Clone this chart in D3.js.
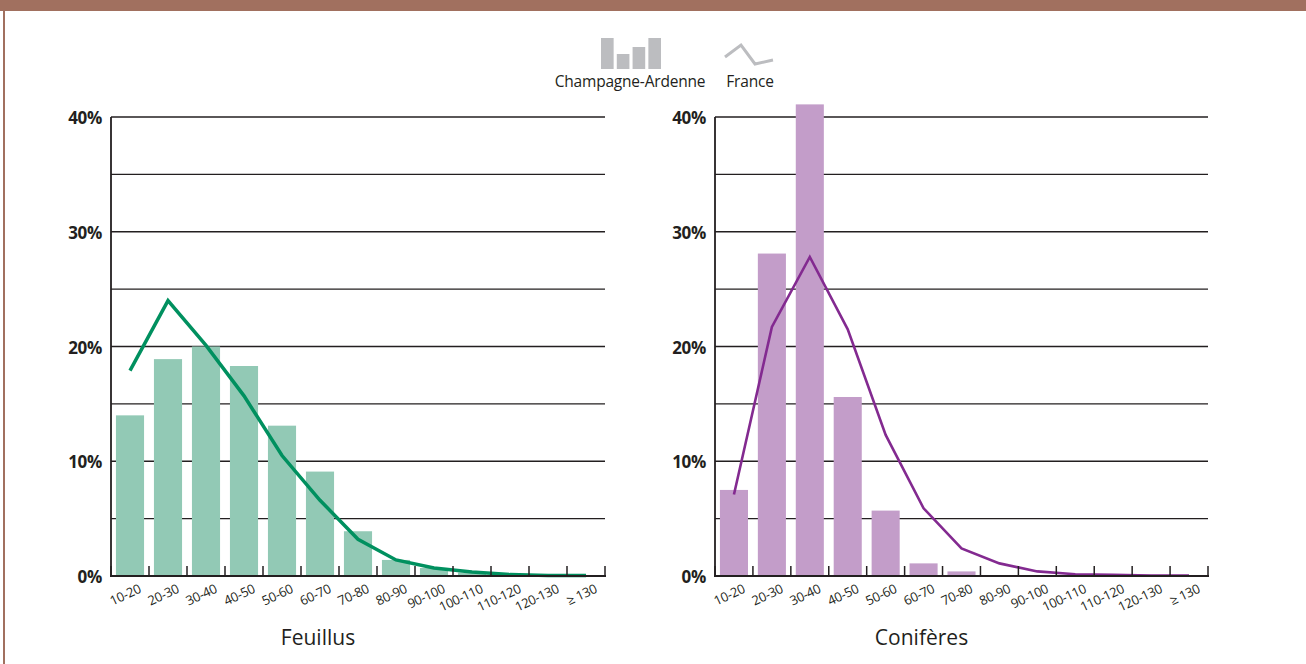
<!DOCTYPE html>
<html>
<head>
<meta charset="utf-8">
<script src="https://cdn.jsdelivr.net/npm/d3@7"></script>
<style>
  body { margin: 0; background: #fff; }
  svg { display: block; font-family: "Open Sans", sans-serif; }
</style>
</head>
<body>
<div class="chart"></div>
<script>
var width = 1306,
    height = 664;

// categories (diameter classes, cm)
var classes = ["10-20", "20-30", "30-40", "40-50", "50-60", "60-70", "70-80",
               "80-90", "90-100", "100-110", "110-120", "120-130", "\u2265 130"];
var yTicks = [0, 10, 20, 30, 40];

// Feuillus: region bars, France line (%)
var feuillusRegion = [14.0, 18.9, 20.0, 18.3, 13.1, 9.1, 3.9, 1.4, 0.7, 0.3, 0.1, 0.05, 0.05];
var feuillusFrance = [17.9, 24.0, 20.1, 15.7, 10.5, 6.6, 3.2, 1.4, 0.7, 0.35, 0.12, 0.05, 0.05];

// Conifères: region bars, France line (%)
var coniferesRegion = [7.5, 28.1, 41.1, 15.6, 5.7, 1.1, 0.4, 0.05, 0, 0, 0, 0, 0];
var coniferesFrance = [7.1, 21.7, 27.8, 21.5, 12.3, 5.9, 2.4, 1.1, 0.4, 0.15, 0.1, 0.05, 0.05];

var ink = "#231f20";

var svg = d3.select(".chart").append("svg")
            .attr("width", width)
            .attr("height", height);

// frame: top band and left rule
svg.append("rect").attr("x", 0).attr("y", 0).attr("width", width).attr("height", 11)
   .attr("fill", "#a1705f");
svg.append("rect").attr("x", 3).attr("y", 0).attr("width", 2).attr("height", height)
   .attr("fill", "#a1705f");

// legend
var legend = svg.append("g");
var legBars = [31, 15, 22, 31];
var legX = d3.scaleBand().domain(d3.range(4)).range([601, 661]).paddingInner(0.2);
legend.selectAll("rect")
  .data(legBars)
  .enter().append("rect")
  .attr("x", (d, i) => legX(i))
  .attr("y", d => 69 - d)
  .attr("width", legX.bandwidth())
  .attr("height", d => d)
  .attr("fill", "#bcbdc0");
legend.append("path")
  .attr("d", d3.line()([[725, 57], [741, 45], [755, 64], [773, 60]]))
  .attr("fill", "none")
  .attr("stroke", "#bcbdc0")
  .attr("stroke-width", 3);
legend.append("text").attr("x", 630).attr("y", 87).attr("text-anchor", "middle")
  .attr("font-size", 15.5).attr("letter-spacing", -0.2).attr("fill", ink).text("Champagne-Ardenne");
legend.append("text").attr("x", 750).attr("y", 87).attr("text-anchor", "middle")
  .attr("font-size", 15.5).attr("letter-spacing", -0.2).attr("fill", ink).text("France");

function drawPanel(opts) {
    var g = svg.append("g");
    var x = d3.scaleBand()
              .domain(classes)
              .range([opts.x0, opts.x1])
              .paddingInner(0.26)
              .paddingOuter(0.13);
    var y = d3.scaleLinear().domain([0, 40]).range([576, 117]);

    // grid every 5%
    g.selectAll("line.grid")
      .data(d3.range(5, 45, 5))
      .enter().append("line")
      .attr("class", "grid")
      .attr("x1", opts.x0).attr("x2", opts.x1)
      .attr("y1", d => y(d)).attr("y2", d => y(d))
      .attr("stroke", ink)
      .attr("stroke-width", 1.3);

    // bars
    g.selectAll("rect.bar")
      .data(opts.bars)
      .enter().append("rect")
      .attr("class", "bar")
      .attr("x", (d, i) => x(classes[i]))
      .attr("y", d => y(d))
      .attr("width", x.bandwidth())
      .attr("height", d => y(0) - y(d))
      .attr("fill", opts.barColor);

    // France line
    var line = d3.line()
                 .x((d, i) => x(classes[i]) + x.bandwidth() / 2)
                 .y(d => y(d));
    g.append("path")
      .datum(opts.line)
      .attr("d", line)
      .attr("fill", "none")
      .attr("stroke", opts.lineColor)
      .attr("stroke-width", opts.lineWidth)
      .attr("stroke-linejoin", "miter");

    // axes
    g.append("line")
      .attr("x1", opts.x0).attr("x2", opts.x0)
      .attr("y1", y(40)).attr("y2", y(0) + 1)
      .attr("stroke", ink).attr("stroke-width", 1.8);
    g.append("line")
      .attr("x1", opts.x0 - 1).attr("x2", opts.x1 + 1)
      .attr("y1", y(0)).attr("y2", y(0))
      .attr("stroke", ink).attr("stroke-width", 2);

    var step = x.step();
    g.selectAll("line.tick")
      .data(d3.range(classes.length + 1))
      .enter().append("line")
      .attr("class", "tick")
      .attr("x1", i => opts.x0 + i * step).attr("x2", i => opts.x0 + i * step)
      .attr("y1", y(0)).attr("y2", y(0) - 10)
      .attr("stroke", ink).attr("stroke-width", 1.5);

    g.selectAll("text.ylab")
      .data(yTicks)
      .enter().append("text")
      .attr("class", "ylab")
      .attr("x", opts.x0 - 9)
      .attr("y", d => y(d) + 7)
      .attr("text-anchor", "end")
      .attr("font-size", 17)
      .attr("font-weight", "bold")
      .attr("letter-spacing", -0.3)
      .attr("fill", ink)
      .text(d => d + "%");

    g.selectAll("text.xlab")
      .data(classes)
      .enter().append("text")
      .attr("class", "xlab")
      .attr("text-anchor", "end")
      .attr("font-size", 13)
      .attr("letter-spacing", -0.3)
      .attr("fill", ink)
      .attr("transform", d => "translate(" + (x(d) + x.bandwidth() / 2 + 12) + ",592) rotate(-25)")
      .text(d => d);

    g.append("text")
      .attr("x", (opts.x0 + opts.x1) / 2 - 40)
      .attr("y", 645)
      .attr("text-anchor", "middle")
      .attr("font-size", 21)
      .attr("fill", ink)
      .text(opts.title);
}

drawPanel({
    x0: 111, x1: 605,
    bars: feuillusRegion, line: feuillusFrance,
    barColor: "#92c9b5", lineColor: "#00905f", lineWidth: 3.5,
    title: "Feuillus"
});

drawPanel({
    x0: 715, x1: 1208,
    bars: coniferesRegion, line: coniferesFrance,
    barColor: "#c39dc9", lineColor: "#832a90", lineWidth: 2.6,
    title: "Conifères"
});
</script>
</body>
</html>
